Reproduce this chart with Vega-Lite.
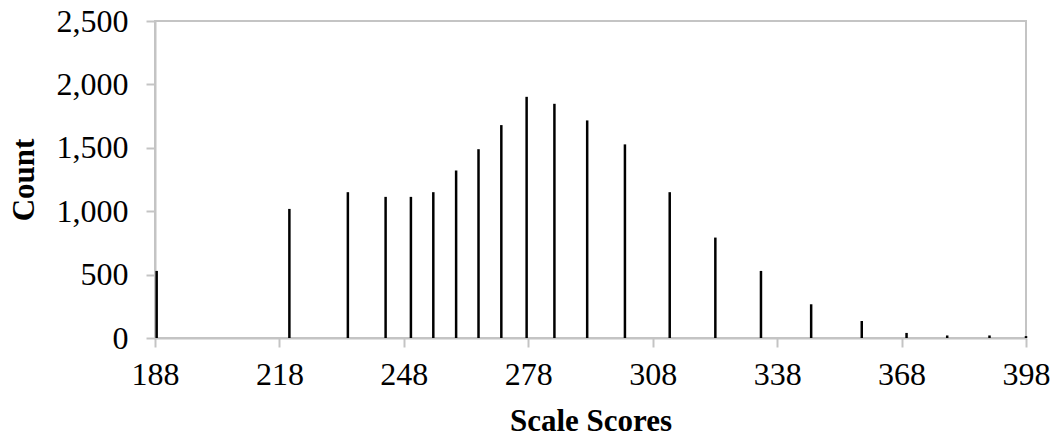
{
  "$schema": "https://vega.github.io/schema/vega-lite/v6.json",
  "width": 871,
  "height": 317,
  "autosize": "none",
  "padding": {"left": 155, "top": 21, "right": 31, "bottom": 99},
  "background": "white",
  "config": {
    "view": {"stroke": "#c4c4c4", "strokeWidth": 2},
    "axis": {
      "labelFont": "Liberation Serif",
      "titleFont": "Liberation Serif",
      "labelFontSize": 32,
      "titleFontSize": 31,
      "labelColor": "black",
      "titleColor": "black",
      "titleFontWeight": "bold",
      "domainColor": "#c4c4c4",
      "domainWidth": 2,
      "tickColor": "#c4c4c4",
      "tickWidth": 2,
      "tickSize": 9,
      "grid": false,
      "labelFlush": false
    }
  },
  "data": {
    "values": [
      {"score": 188.4, "count": 529},
      {"score": 220.4, "count": 1018},
      {"score": 234.5, "count": 1150},
      {"score": 243.6, "count": 1113},
      {"score": 249.7, "count": 1113},
      {"score": 255.1, "count": 1150},
      {"score": 260.6, "count": 1321},
      {"score": 266.0, "count": 1489},
      {"score": 271.5, "count": 1679},
      {"score": 277.6, "count": 1902},
      {"score": 284.3, "count": 1847},
      {"score": 292.2, "count": 1716},
      {"score": 301.3, "count": 1527},
      {"score": 312.1, "count": 1150},
      {"score": 323.1, "count": 792},
      {"score": 334.1, "count": 529},
      {"score": 346.2, "count": 266},
      {"score": 358.4, "count": 134},
      {"score": 369.2, "count": 40},
      {"score": 379.0, "count": 20},
      {"score": 389.2, "count": 20},
      {"score": 398.0, "count": 15}
    ]
  },
  "mark": {"type": "rule", "color": "black", "strokeWidth": 2.5},
  "encoding": {
    "x": {
      "field": "score",
      "type": "quantitative",
      "scale": {"domain": [188, 398], "nice": false, "zero": false},
      "axis": {
        "title": "Scale Scores",
        "values": [188, 218, 248, 278, 308, 338, 368, 398],
        "labelPadding": 12,
        "titlePadding": 16
      }
    },
    "y": {
      "field": "count",
      "type": "quantitative",
      "scale": {"domain": [0, 2500], "nice": false},
      "axis": {
        "title": "Count",
        "values": [0, 500, 1000, 1500, 2000, 2500],
        "format": ",d",
        "labelPadding": 18,
        "titlePadding": 16
      }
    },
    "y2": {"datum": 0}
  }
}
